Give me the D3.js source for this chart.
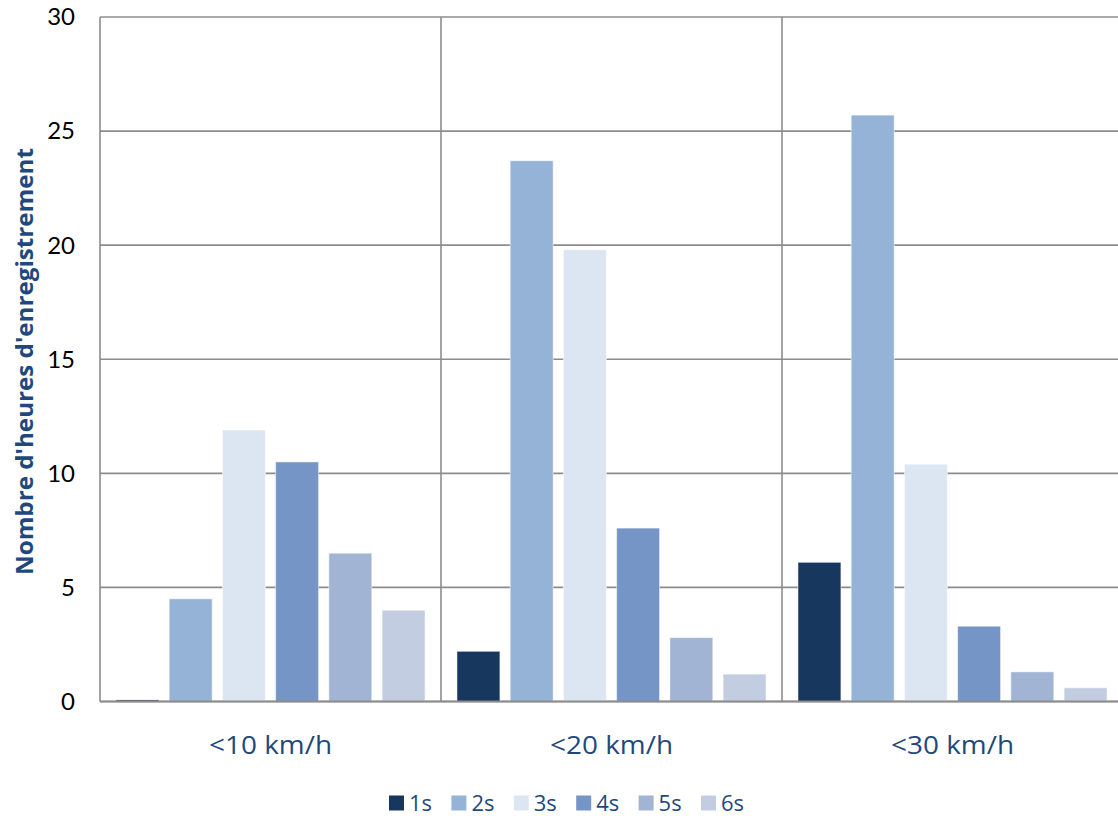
<!DOCTYPE html>
<html>
<head>
<meta charset="utf-8">
<script src="https://cdn.jsdelivr.net/npm/d3@7"></script>
<style>
  html, body { margin: 0; padding: 0; background: #fff; }
  svg { display: block; }
</style>
</head>
<body>
<script>
// Hours of recording by speed class and interval
const categories = ["<10 km/h", "<20 km/h", "<30 km/h"];
const seriesNames = ["1s", "2s", "3s", "4s", "5s", "6s"];
const s1 = [0.07, 2.2, 6.1];
const s2 = [4.5, 23.7, 25.7];
const s3 = [11.9, 19.8, 10.4];
const s4 = [10.5, 7.6, 3.3];
const s5 = [6.5, 2.8, 1.3];
const s6 = [4.0, 1.2, 0.6];
const yTicks = [0, 5, 10, 15, 20, 25, 30];
const yTitle = "Nombre d'heures d'enregistrement";
const colors = ["#17375e", "#95b3d7", "#dce6f2", "#7595c6", "#a2b4d4", "#c3cde2"];

const seriesValues = [s1, s2, s3, s4, s5, s6];
const W = 1118, H = 816;
const plotLeft = 100, plotRight = 1118, plotTop = 17, plotBottom = 701.5;
const grid = "#8c8c8c";
const font = "Lato, 'Open Sans', sans-serif";
const wideFont = "'Open Sans', Lato, sans-serif";
const titleColor = "#1f497d";

const svg = d3.select("body").append("svg").attr("width", W).attr("height", H);

const x0 = d3.scaleBand().domain(categories).range([plotLeft, plotLeft + 341 * 3]).padding(0);
const x1 = d3.scaleBand().domain(seriesNames).range([0, x0.bandwidth()])
  .paddingInner(0.193).paddingOuter(0.3);
const y = d3.scaleLinear().domain([0, 30]).range([plotBottom, plotTop]);

// horizontal gridlines
svg.append("g").selectAll("line").data(yTicks).join("line")
  .attr("x1", plotLeft).attr("x2", plotRight)
  .attr("y1", d => y(d)).attr("y2", d => y(d))
  .attr("stroke", grid).attr("stroke-width", 1.6);

// vertical category separators
const seps = categories.map(c => x0(c));
svg.append("g").selectAll("line").data(seps).join("line")
  .attr("x1", d => d).attr("x2", d => d)
  .attr("y1", plotTop).attr("y2", plotBottom)
  .attr("stroke", grid).attr("stroke-width", 1.6);

// bars
const groups = svg.append("g").selectAll("g").data(categories).join("g")
  .attr("transform", c => `translate(${x0(c)},0)`);
groups.selectAll("rect")
  .data((c, ci) => seriesNames.map((s, si) => ({ s, si, v: seriesValues[si][ci] })))
  .join("rect")
  .attr("x", d => x1(d.s))
  .attr("width", x1.bandwidth())
  .attr("y", d => y(d.v))
  .attr("height", d => plotBottom - y(d.v))
  .attr("fill", d => colors[d.si])
  .attr("stroke", "#ffffff").attr("stroke-opacity", 0.5).attr("stroke-width", 1);

// baseline
svg.append("line").attr("x1", plotLeft).attr("x2", plotRight)
  .attr("y1", plotBottom).attr("y2", plotBottom)
  .attr("stroke", grid).attr("stroke-width", 2);

// y tick labels
svg.append("g").selectAll("text").data(yTicks).join("text")
  .attr("x", 75).attr("y", d => y(d))
  .attr("dy", "0.35em").attr("text-anchor", "end")
  .attr("font-family", font).attr("font-size", 24).attr("fill", "#000")
  .text(d => d);

// y title
svg.append("text")
  .attr("transform", `translate(33,${(148 + 575) / 2}) rotate(-90)`)
  .attr("text-anchor", "middle")
  .attr("font-family", wideFont).attr("font-size", 24).attr("font-weight", "bold")
  .attr("textLength", 427).attr("lengthAdjust", "spacingAndGlyphs")
  .attr("fill", titleColor)
  .text(yTitle);

// category labels
svg.append("g").selectAll("text").data(categories).join("text")
  .attr("x", c => x0(c) + x0.bandwidth() / 2).attr("y", 754)
  .attr("text-anchor", "middle")
  .attr("font-family", wideFont).attr("font-size", 26).attr("fill", titleColor)
  .attr("textLength", 123).attr("lengthAdjust", "spacingAndGlyphs")
  .text(c => c);

// legend
const legend = svg.append("g").selectAll("g").data(seriesNames).join("g")
  .attr("transform", (d, i) => `translate(${389 + i * 62.4},803)`);
legend.append("rect").attr("x", 0).attr("y", -7.5).attr("width", 15).attr("height", 15)
  .attr("fill", (d, i) => colors[i]);
legend.append("text").attr("x", 20).attr("y", 7.5)
  .attr("font-family", wideFont).attr("font-size", 21).attr("fill", titleColor)
  .attr("textLength", 23).attr("lengthAdjust", "spacingAndGlyphs")
  .text(d => d);
</script>
</body>
</html>
